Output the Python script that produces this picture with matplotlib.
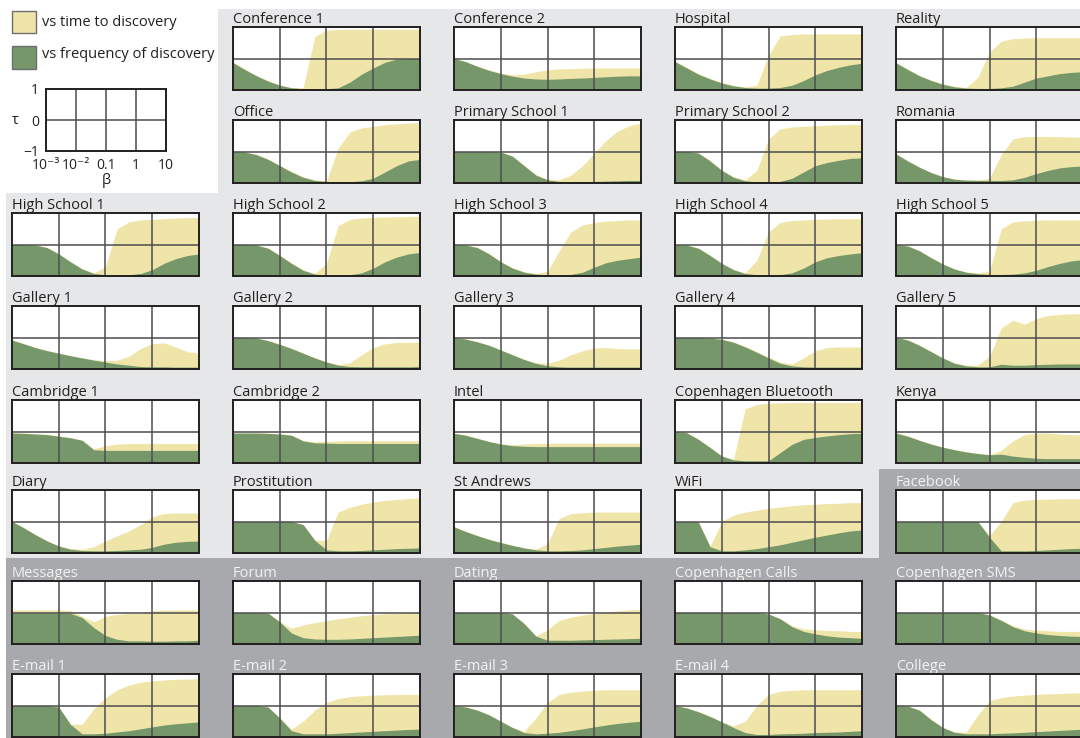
import numpy as np
import matplotlib
matplotlib.use("Agg")
import matplotlib.pyplot as plt
from matplotlib.patches import Polygon, Rectangle

plt.rcParams['font.family'] = ['Open Sans', 'DejaVu Sans']

YELLOW = '#f0e5a8'
GREEN = '#76976a'
LIGHT = '#e6e7e8'
DARK = '#a7a9ac'
GRID = '#4d4d4f'
EDGE = '#231f20'
TEXT_DARK = '#231f20'
TEXT_LIGHT = '#f1f2f2'

# sample points of beta (log10)
log_beta = [-3.0, -2.75, -2.5, -2.25, -2.0, -1.75, -1.5, -1.25, -1.0,
            -0.75, -0.5, -0.25, 0.0, 0.25, 0.5, 0.75, 1.0]

# kendall tau vs time to discovery (_t) and vs frequency of discovery (_f)
conf1_t = [-0.12, -0.33, -0.53, -0.70, -0.84, -0.92, -0.93, 0.7, 0.9, 0.92, 0.93, 0.93, 0.93, 0.93, 0.93, 0.93, 0.93]
conf1_f = [-0.13, -0.35, -0.55, -0.72, -0.85, -0.93, -0.96, -0.97, -0.96, -0.93, -0.75, -0.5, -0.3, -0.12, -0.02, 0.0, 0.0]
conf2_t = [0.0, -0.1, -0.24, -0.36, -0.46, -0.52, -0.5, -0.42, -0.36, -0.33, -0.32, -0.31, -0.3, -0.3, -0.3, -0.3, -0.3]
conf2_f = [0.0, -0.1, -0.25, -0.38, -0.48, -0.56, -0.62, -0.65, -0.66, -0.65, -0.63, -0.62, -0.6, -0.58, -0.56, -0.55, -0.55]
hosp_t = [-0.08, -0.28, -0.48, -0.63, -0.76, -0.85, -0.9, -0.85, 0.1, 0.72, 0.76, 0.78, 0.78, 0.78, 0.78, 0.78, 0.78]
hosp_f = [-0.1, -0.3, -0.5, -0.65, -0.78, -0.87, -0.92, -0.94, -0.94, -0.92, -0.85, -0.7, -0.52, -0.38, -0.28, -0.2, -0.15]
reality_t = [-0.12, -0.33, -0.53, -0.68, -0.8, -0.88, -0.92, -0.6, 0.2, 0.55, 0.63, 0.65, 0.66, 0.66, 0.66, 0.66, 0.66]
reality_f = [-0.14, -0.35, -0.55, -0.7, -0.82, -0.9, -0.94, -0.95, -0.95, -0.93, -0.88, -0.75, -0.62, -0.55, -0.48, -0.44, -0.42]

office_t = [0.0, -0.01, -0.09, -0.24, -0.44, -0.64, -0.8, -0.9, -0.93, 0.1, 0.62, 0.75, 0.8, 0.85, 0.88, 0.9, 0.92]
office_f = [0.0, -0.02, -0.1, -0.25, -0.45, -0.65, -0.82, -0.92, -0.95, -0.96, -0.96, -0.93, -0.85, -0.65, -0.45, -0.3, -0.25]
ps1_t = [0.0, 0.0, 0.0, 0.0, -0.01, -0.14, -0.44, -0.73, -0.88, -0.9, -0.75, -0.45, -0.05, 0.35, 0.65, 0.82, 0.9]
ps1_f = [0.0, 0.0, 0.0, 0.0, -0.02, -0.15, -0.45, -0.75, -0.9, -0.95, -0.96, -0.96, -0.95, -0.94, -0.93, -0.92, -0.92]
ps2_t = [0.0, 0.0, -0.04, -0.29, -0.58, -0.8, -0.9, -0.6, 0.4, 0.72, 0.78, 0.8, 0.82, 0.84, 0.85, 0.86, 0.86]
ps2_f = [0.0, 0.0, -0.05, -0.3, -0.6, -0.82, -0.93, -0.96, -0.96, -0.95, -0.85, -0.65, -0.45, -0.35, -0.28, -0.22, -0.2]
romania_t = [-0.07, -0.29, -0.49, -0.66, -0.79, -0.87, -0.9, -0.9, -0.85, -0.1, 0.4, 0.47, 0.48, 0.48, 0.47, 0.46, 0.46]
romania_f = [-0.08, -0.3, -0.5, -0.67, -0.8, -0.88, -0.91, -0.92, -0.92, -0.92, -0.9, -0.82, -0.7, -0.6, -0.52, -0.48, -0.46]

hs1_t = [0.0, 0.0, -0.01, -0.09, -0.29, -0.54, -0.76, -0.9, -0.7, 0.5, 0.72, 0.78, 0.8, 0.82, 0.84, 0.85, 0.86]
hs1_f = [0.0, 0.0, -0.02, -0.1, -0.3, -0.55, -0.78, -0.92, -0.96, -0.97, -0.96, -0.92, -0.8, -0.6, -0.45, -0.35, -0.3]
hs2_t = [0.0, 0.0, -0.01, -0.11, -0.34, -0.59, -0.8, -0.92, -0.6, 0.6, 0.8, 0.84, 0.86, 0.87, 0.88, 0.89, 0.9]
hs2_f = [0.0, 0.0, -0.02, -0.12, -0.35, -0.6, -0.82, -0.94, -0.97, -0.97, -0.96, -0.9, -0.75, -0.55, -0.4, -0.3, -0.25]
hs3_t = [0.0, -0.01, -0.09, -0.29, -0.54, -0.74, -0.86, -0.92, -0.85, -0.2, 0.4, 0.62, 0.7, 0.74, 0.76, 0.78, 0.78]
hs3_f = [0.0, -0.02, -0.1, -0.3, -0.55, -0.75, -0.88, -0.94, -0.96, -0.96, -0.95, -0.88, -0.72, -0.58, -0.5, -0.45, -0.4]
hs4_t = [0.0, -0.01, -0.11, -0.34, -0.59, -0.79, -0.9, -0.5, 0.4, 0.7, 0.76, 0.78, 0.8, 0.81, 0.82, 0.82, 0.82]
hs4_f = [0.0, -0.02, -0.12, -0.35, -0.6, -0.8, -0.92, -0.96, -0.97, -0.96, -0.9, -0.75, -0.55, -0.42, -0.35, -0.3, -0.26]
hs5_t = [0.0, -0.04, -0.19, -0.41, -0.61, -0.77, -0.87, -0.9, -0.85, 0.5, 0.72, 0.75, 0.77, 0.78, 0.78, 0.78, 0.78]
hs5_f = [0.0, -0.05, -0.2, -0.42, -0.62, -0.78, -0.88, -0.93, -0.95, -0.95, -0.94, -0.9, -0.82, -0.7, -0.6, -0.52, -0.48]

gal1_t = [-0.07, -0.19, -0.31, -0.41, -0.49, -0.57, -0.64, -0.7, -0.74, -0.72, -0.6, -0.35, -0.2, -0.17, -0.3, -0.45, -0.5]
gal1_f = [-0.08, -0.2, -0.32, -0.42, -0.5, -0.58, -0.65, -0.72, -0.78, -0.84, -0.88, -0.92, -0.93, -0.93, -0.94, -0.94, -0.94]
gal2_t = [0.0, 0.0, -0.01, -0.09, -0.21, -0.34, -0.49, -0.64, -0.77, -0.86, -0.8, -0.55, -0.32, -0.2, -0.16, -0.15, -0.15]
gal2_f = [0.0, 0.0, -0.02, -0.1, -0.22, -0.35, -0.5, -0.65, -0.78, -0.88, -0.92, -0.93, -0.93, -0.93, -0.93, -0.93, -0.92]
gal3_t = [0.0, -0.04, -0.13, -0.24, -0.39, -0.54, -0.69, -0.8, -0.82, -0.72, -0.55, -0.42, -0.33, -0.32, -0.35, -0.36, -0.36]
gal3_f = [0.0, -0.05, -0.14, -0.25, -0.4, -0.55, -0.7, -0.82, -0.9, -0.93, -0.94, -0.94, -0.94, -0.94, -0.94, -0.94, -0.94]
gal4_t = [0.0, 0.0, 0.0, -0.01, -0.05, -0.14, -0.28, -0.45, -0.62, -0.78, -0.84, -0.65, -0.42, -0.32, -0.3, -0.3, -0.3]
gal4_f = [0.0, 0.0, 0.0, -0.02, -0.06, -0.15, -0.3, -0.47, -0.65, -0.82, -0.9, -0.93, -0.94, -0.94, -0.94, -0.94, -0.94]
gal5_t = [0.0, -0.07, -0.24, -0.44, -0.64, -0.8, -0.88, -0.88, -0.6, 0.3, 0.55, 0.42, 0.6, 0.7, 0.73, 0.75, 0.76]
gal5_f = [0.0, -0.08, -0.25, -0.45, -0.65, -0.82, -0.9, -0.93, -0.93, -0.85, -0.88, -0.88, -0.86, -0.85, -0.84, -0.84, -0.84]

cam1_t = [-0.04, -0.05, -0.07, -0.09, -0.14, -0.19, -0.27, -0.55, -0.45, -0.4, -0.38, -0.38, -0.38, -0.38, -0.38, -0.38, -0.38]
cam1_f = [-0.05, -0.06, -0.08, -0.1, -0.15, -0.2, -0.28, -0.58, -0.6, -0.6, -0.6, -0.6, -0.6, -0.6, -0.6, -0.6, -0.6]
cam2_t = [-0.04, -0.04, -0.04, -0.05, -0.07, -0.11, -0.28, -0.33, -0.31, -0.3, -0.29, -0.29, -0.29, -0.29, -0.29, -0.29, -0.29]
cam2_f = [-0.05, -0.05, -0.05, -0.06, -0.08, -0.12, -0.3, -0.36, -0.37, -0.38, -0.38, -0.38, -0.38, -0.38, -0.38, -0.38, -0.38]
intel_t = [-0.05, -0.11, -0.21, -0.31, -0.39, -0.42, -0.4, -0.38, -0.37, -0.37, -0.37, -0.37, -0.37, -0.37, -0.37, -0.37, -0.37]
intel_f = [-0.06, -0.12, -0.22, -0.32, -0.4, -0.45, -0.47, -0.48, -0.48, -0.48, -0.48, -0.48, -0.48, -0.48, -0.48, -0.48, -0.48]
cbt_t = [0.01, -0.03, -0.24, -0.5, -0.77, -0.89, 0.72, 0.86, 0.9, 0.91, 0.92, 0.92, 0.92, 0.92, 0.92, 0.92, 0.92]
cbt_f = [0.0, -0.04, -0.25, -0.51, -0.78, -0.9, -0.93, -0.93, -0.93, -0.67, -0.41, -0.25, -0.19, -0.14, -0.1, -0.07, -0.06]
kenya_t = [-0.04, -0.14, -0.27, -0.39, -0.49, -0.57, -0.64, -0.69, -0.73, -0.6, -0.3, -0.1, -0.05, -0.05, -0.08, -0.1, -0.1]
kenya_f = [-0.05, -0.15, -0.28, -0.4, -0.5, -0.58, -0.65, -0.7, -0.74, -0.72, -0.78, -0.82, -0.85, -0.86, -0.86, -0.86, -0.86]

diary_t = [0.0, -0.19, -0.41, -0.61, -0.77, -0.86, -0.88, -0.8, -0.62, -0.45, -0.3, -0.1, 0.15, 0.25, 0.27, 0.27, 0.27]
diary_f = [0.0, -0.2, -0.42, -0.62, -0.78, -0.88, -0.92, -0.93, -0.93, -0.92, -0.9, -0.88, -0.82, -0.72, -0.66, -0.63, -0.62]
prost_t = [0.0, 0.0, 0.0, 0.0, 0.0, 0.0, -0.09, -0.59, -0.6, 0.3, 0.45, 0.55, 0.62, 0.67, 0.7, 0.73, 0.75]
prost_f = [0.0, 0.0, 0.0, 0.0, 0.0, 0.0, -0.1, -0.6, -0.9, -0.93, -0.93, -0.92, -0.9, -0.88, -0.86, -0.85, -0.84]
stand_t = [-0.16, -0.31, -0.44, -0.56, -0.66, -0.75, -0.83, -0.88, -0.7, 0.1, 0.25, 0.28, 0.3, 0.3, 0.3, 0.3, 0.3]
stand_f = [-0.17, -0.32, -0.45, -0.57, -0.67, -0.76, -0.84, -0.9, -0.93, -0.93, -0.92, -0.9, -0.86, -0.82, -0.78, -0.75, -0.72]
wifi_t = [0.0, 0.0, -0.01, -0.79, 0.0, 0.2, 0.3, 0.36, 0.42, 0.46, 0.5, 0.53, 0.55, 0.57, 0.58, 0.6, 0.6]
wifi_f = [0.0, 0.0, -0.02, -0.8, -0.93, -0.93, -0.9, -0.86, -0.8, -0.74, -0.66, -0.58, -0.5, -0.43, -0.36, -0.3, -0.27]
fb_t = [0.0, 0.0, 0.0, 0.0, 0.0, 0.0, 0.0, 0.0, -0.45, 0.0, 0.6, 0.68, 0.7, 0.71, 0.72, 0.72, 0.72]
fb_f = [0.0, 0.0, 0.0, 0.0, 0.0, 0.0, 0.0, 0.0, -0.5, -0.93, -0.93, -0.93, -0.92, -0.9, -0.88, -0.86, -0.85]

msg_t = [0.08, 0.08, 0.08, 0.08, 0.08, 0.06, -0.12, -0.3, -0.12, -0.06, -0.03, -0.03, 0.05, 0.08, 0.08, 0.08, 0.08]
msg_f = [-0.02, -0.02, -0.02, -0.02, -0.02, -0.03, -0.16, -0.48, -0.73, -0.85, -0.9, -0.9, -0.91, -0.91, -0.9, -0.9, -0.88]
forum_t = [0.0, 0.0, 0.0, -0.01, -0.29, -0.5, -0.4, -0.32, -0.26, -0.2, -0.15, -0.1, -0.07, -0.04, -0.02, 0.0, 0.0]
forum_f = [0.0, 0.0, 0.0, -0.02, -0.3, -0.65, -0.8, -0.84, -0.85, -0.85, -0.84, -0.82, -0.8, -0.78, -0.76, -0.74, -0.72]
dating_t = [0.0, 0.0, 0.0, 0.0, 0.0, -0.04, -0.34, -0.74, -0.55, -0.25, -0.15, -0.08, -0.03, 0.02, 0.05, 0.08, 0.1]
dating_f = [0.0, 0.0, 0.0, 0.0, 0.0, -0.05, -0.35, -0.75, -0.88, -0.88, -0.88, -0.87, -0.86, -0.85, -0.84, -0.83, -0.82]
ccalls_t = [0.0, 0.0, 0.0, 0.0, 0.0, 0.0, 0.0, 0.0, -0.04, -0.19, -0.42, -0.52, -0.55, -0.57, -0.58, -0.6, -0.6]
ccalls_f = [0.0, 0.0, 0.0, 0.0, 0.0, 0.0, 0.0, 0.0, -0.05, -0.2, -0.45, -0.6, -0.68, -0.74, -0.78, -0.8, -0.82]
csms_t = [0.0, 0.0, 0.0, 0.0, 0.0, 0.0, 0.0, 0.0, -0.07, -0.24, -0.42, -0.52, -0.56, -0.58, -0.6, -0.6, -0.6]
csms_f = [0.0, 0.0, 0.0, 0.0, 0.0, 0.0, 0.0, 0.0, -0.08, -0.25, -0.45, -0.58, -0.65, -0.7, -0.73, -0.75, -0.76]

email1_t = [0.0, 0.0, 0.0, 0.0, -0.04, -0.59, -0.6, -0.1, 0.25, 0.5, 0.65, 0.74, 0.78, 0.81, 0.83, 0.84, 0.85]
email1_f = [0.0, 0.0, 0.0, 0.0, -0.05, -0.6, -0.9, -0.9, -0.88, -0.84, -0.8, -0.74, -0.68, -0.62, -0.58, -0.55, -0.52]
email2_t = [0.0, 0.0, 0.0, -0.04, -0.39, -0.75, -0.5, -0.15, 0.1, 0.22, 0.28, 0.31, 0.33, 0.34, 0.35, 0.35, 0.35]
email2_f = [0.0, 0.0, 0.0, -0.05, -0.4, -0.8, -0.9, -0.9, -0.9, -0.88, -0.86, -0.84, -0.82, -0.8, -0.78, -0.76, -0.75]
email3_t = [0.0, -0.04, -0.14, -0.29, -0.49, -0.69, -0.82, -0.4, 0.1, 0.35, 0.42, 0.46, 0.48, 0.5, 0.5, 0.5, 0.5]
email3_f = [0.0, -0.05, -0.15, -0.3, -0.5, -0.7, -0.86, -0.9, -0.88, -0.85, -0.8, -0.74, -0.68, -0.62, -0.57, -0.53, -0.5]
email4_t = [0.0, -0.07, -0.19, -0.34, -0.51, -0.65, -0.5, 0.0, 0.35, 0.45, 0.48, 0.5, 0.5, 0.5, 0.5, 0.5, 0.5]
email4_f = [0.0, -0.08, -0.2, -0.35, -0.52, -0.7, -0.86, -0.92, -0.92, -0.9, -0.89, -0.88, -0.86, -0.85, -0.84, -0.82, -0.8]
college_t = [0.0, -0.01, -0.14, -0.44, -0.69, -0.84, -0.85, -0.3, 0.15, 0.25, 0.3, 0.33, 0.35, 0.37, 0.38, 0.4, 0.4]
college_f = [0.0, -0.02, -0.15, -0.45, -0.7, -0.85, -0.9, -0.9, -0.9, -0.88, -0.87, -0.85, -0.83, -0.81, -0.79, -0.77, -0.75]

# (row, col, title, time, freq, dark background)
panels = [
    (0, 1, 'Conference 1', conf1_t, conf1_f, False),
    (0, 2, 'Conference 2', conf2_t, conf2_f, False),
    (0, 3, 'Hospital', hosp_t, hosp_f, False),
    (0, 4, 'Reality', reality_t, reality_f, False),
    (1, 1, 'Office', office_t, office_f, False),
    (1, 2, 'Primary School 1', ps1_t, ps1_f, False),
    (1, 3, 'Primary School 2', ps2_t, ps2_f, False),
    (1, 4, 'Romania', romania_t, romania_f, False),
    (2, 0, 'High School 1', hs1_t, hs1_f, False),
    (2, 1, 'High School 2', hs2_t, hs2_f, False),
    (2, 2, 'High School 3', hs3_t, hs3_f, False),
    (2, 3, 'High School 4', hs4_t, hs4_f, False),
    (2, 4, 'High School 5', hs5_t, hs5_f, False),
    (3, 0, 'Gallery 1', gal1_t, gal1_f, False),
    (3, 1, 'Gallery 2', gal2_t, gal2_f, False),
    (3, 2, 'Gallery 3', gal3_t, gal3_f, False),
    (3, 3, 'Gallery 4', gal4_t, gal4_f, False),
    (3, 4, 'Gallery 5', gal5_t, gal5_f, False),
    (4, 0, 'Cambridge 1', cam1_t, cam1_f, False),
    (4, 1, 'Cambridge 2', cam2_t, cam2_f, False),
    (4, 2, 'Intel', intel_t, intel_f, False),
    (4, 3, 'Copenhagen Bluetooth', cbt_t, cbt_f, False),
    (4, 4, 'Kenya', kenya_t, kenya_f, False),
    (5, 0, 'Diary', diary_t, diary_f, False),
    (5, 1, 'Prostitution', prost_t, prost_f, False),
    (5, 2, 'St Andrews', stand_t, stand_f, False),
    (5, 3, 'WiFi', wifi_t, wifi_f, False),
    (5, 4, 'Facebook', fb_t, fb_f, True),
    (6, 0, 'Messages', msg_t, msg_f, True),
    (6, 1, 'Forum', forum_t, forum_f, True),
    (6, 2, 'Dating', dating_t, dating_f, True),
    (6, 3, 'Copenhagen Calls', ccalls_t, ccalls_f, True),
    (6, 4, 'Copenhagen SMS', csms_t, csms_f, True),
    (7, 0, 'E-mail 1', email1_t, email1_f, True),
    (7, 1, 'E-mail 2', email2_t, email2_f, True),
    (7, 2, 'E-mail 3', email3_t, email3_f, True),
    (7, 3, 'E-mail 4', email4_t, email4_f, True),
    (7, 4, 'College', college_t, college_f, True),
]

W, H = 1080, 738
COL_X = [12, 233, 454, 675, 896]
ROW_Y = [27, 120, 213, 306, 400, 490, 581, 674]
PW, PH = 187, 63


def px_rect(x, y, w, h):
    return [x / W, 1 - (y + h) / H, w / W, h / H]


def style_box(ax):
    ax.set_xscale('log')
    ax.set_xlim(1e-3, 10)
    ax.set_ylim(-1, 1)
    ax.minorticks_off()
    for b in (1e-2, 0.1, 1):
        ax.axvline(b, color=GRID, lw=1.1, zorder=3)
    ax.axhline(0, color=GRID, lw=1.1, zorder=3)
    for s in ax.spines.values():
        s.set_linewidth(1.4)
        s.set_color(EDGE)
        s.set_zorder(4)


fig = plt.figure(figsize=(W / 100, H / 100), dpi=100)

bg = fig.add_axes([0, 0, 1, 1], zorder=0)
bg.set_xlim(0, W)
bg.set_ylim(H, 0)
bg.axis('off')
bg.add_patch(Polygon([(218, 9), (W, 9), (W, 469), (879, 469), (879, 558),
                      (6, 558), (6, 193), (218, 193)], closed=True, fc=LIGHT, ec='none'))
bg.add_patch(Polygon([(879, 469), (W, 469), (W, H), (6, H), (6, 558), (879, 558)],
                     closed=True, fc=DARK, ec='none'))

# legend
bg.add_patch(Rectangle((12, 11), 24, 22, fc=YELLOW, ec='#6d6e71', lw=1))
bg.add_patch(Rectangle((12, 46), 24, 23, fc=GREEN, ec='#6d6e71', lw=1))
bg.text(42, 22, 'vs time to discovery', fontsize=10.5, color=TEXT_DARK, va='center')
bg.text(42, 55, 'vs frequency of discovery', fontsize=10.5, color=TEXT_DARK, va='center')

# key axes
key = fig.add_axes(px_rect(46, 89, 120, 62), zorder=2)
style_box(key)
key.set_xticks([1e-3, 1e-2, 0.1, 1, 10],
               labels=['10\u207b\u00b3', '10\u207b\u00b2', '0.1', '1', '10'])
key.set_yticks([-1, 0, 1], labels=['\u22121', '0', '1'])
key.tick_params(which='both', length=0, labelsize=10, colors=TEXT_DARK)
key.tick_params(axis='x', pad=5)
key.tick_params(axis='y', pad=5)
key.set_xlabel('β', fontsize=10.5, labelpad=0, color=TEXT_DARK)
key.set_ylabel('τ', fontsize=10.5, rotation=0, va='center', labelpad=6, color=TEXT_DARK)

beta = 10.0 ** np.array(log_beta)
for row, col, title, t_vals, f_vals, dark in panels:
    x0, y0 = COL_X[col], ROW_Y[row]
    ax = fig.add_axes(px_rect(x0, y0, PW, PH), zorder=2)
    ax.fill_between(beta, -1, t_vals, color=YELLOW, lw=0, zorder=1)
    ax.fill_between(beta, -1, f_vals, color=GREEN, lw=0, zorder=2)
    style_box(ax)
    ax.tick_params(which='both', length=0, labelbottom=False, labelleft=False)
    bg.text(x0, y0 - 4, title, fontsize=10.5, va='baseline', ha='left',
            color=TEXT_LIGHT if dark else TEXT_DARK)

fig.savefig('out.png', dpi=100)
